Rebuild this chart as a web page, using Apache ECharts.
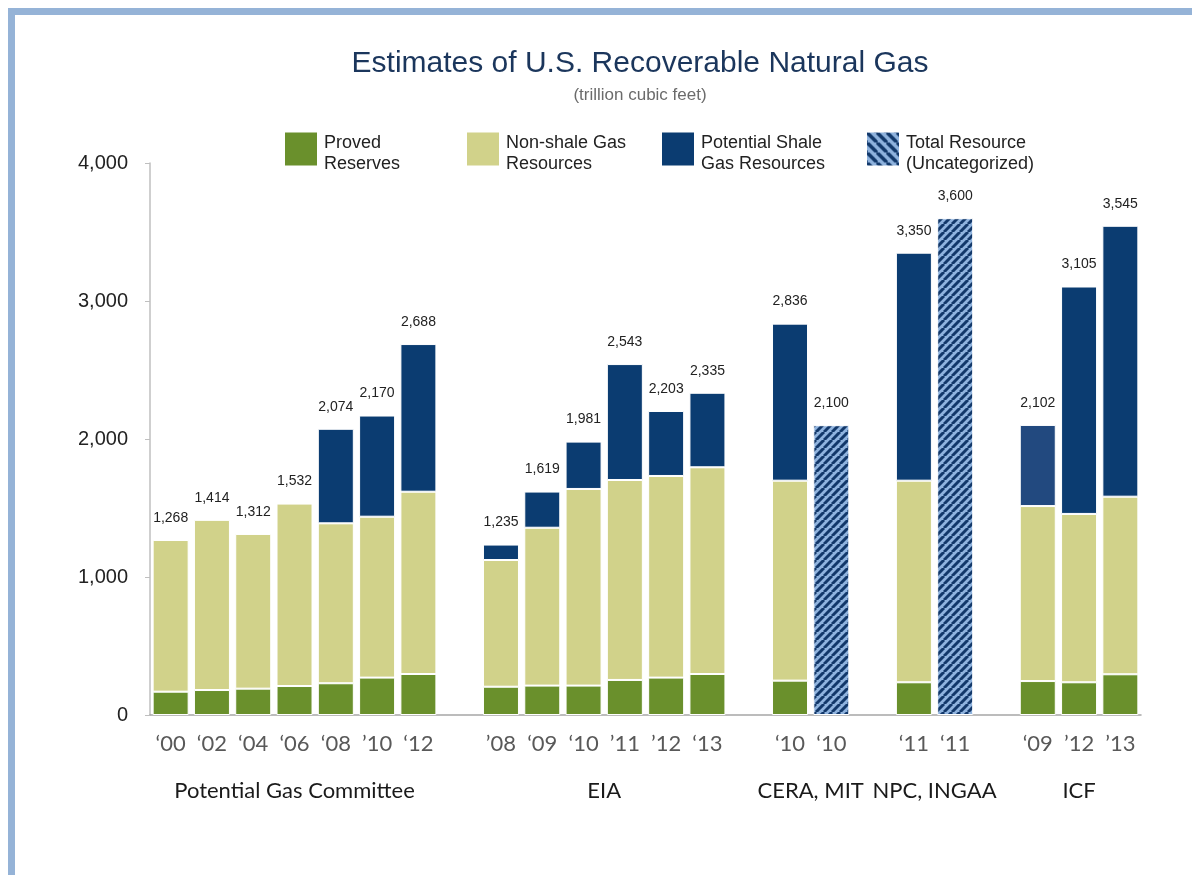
<!DOCTYPE html>
<html>
<head>
<meta charset="utf-8">
<title>Estimates of U.S. Recoverable Natural Gas</title>
<script src="https://cdn.jsdelivr.net/npm/echarts@6/dist/echarts.min.js"></script>
<style>
  html, body { margin: 0; padding: 0; background: #fff; }
  #chart { width: 1198px; height: 875px; }
</style>
</head>
<body>
<div id="chart"></div>
<script>
// categories: one slot per bar, empty slots separate the sources
const categories = ['PGC00', 'PGC02', 'PGC04', 'PGC06', 'PGC08', 'PGC10', 'PGC12', 'gap1',
  'EIA08', 'EIA09', 'EIA10', 'EIA11', 'EIA12', 'EIA13', 'gap2',
  'CERA10', 'MIT10', 'gap3', 'NPC11', 'INGAA11', 'gap4',
  'ICF09', 'ICF12', 'ICF13'];
const tickLabels = ['‘00', '‘02', '‘04', '‘06', '‘08', '’10', '‘12', '',
  '’08', '‘09', '‘10', '’11', '’12', '‘13', '',
  '‘10', '‘10', '', '‘11', '‘11', '',
  '‘09', '’12', '’13'];

// trillion cubic feet
const proved = [169, 181, 191, 210, 230, 271, 297, null,
  205, 213, 213, 254, 271, 297, null,
  249, null, null, 237, null, null,
  246, 237, 295];
const nonShale = [1099, 1233, 1121, 1322, 1159, 1166, 1321, null,
  918, 1144, 1425, 1449, 1461, 1498, null,
  1449, null, null, 1461, null, null,
  1268, 1220, 1287];
const shale = [null, null, null, null, 685, 733, 1070, null,
  112, 262, 343, 840, 471, 540, null,
  1138, null, null, 1652, null, null,
  588, 1648, 1963];
const uncategorized = [null, null, null, null, null, null, null, null,
  null, null, null, null, null, null, null,
  null, 2100, null, null, 3600, null,
  null, null, null];
const totals = [1268, 1414, 1312, 1532, 2074, 2170, 2688, null,
  1235, 1619, 1981, 2543, 2203, 2335, null,
  2836, 2100, null, 3350, 3600, null,
  2102, 3105, 3545];

// group names under the axis, with first and last slot of each group
const groupNames = ['Potential Gas Committee', 'EIA', 'CERA, MIT', 'NPC, INGAA', 'ICF'];
const groupSpans = [[0, 6], [8, 13], [15, 16], [18, 19], [21, 23]];

const seriesNames = ['Proved Reserves', 'Non-shale Gas Resources', 'Potential Shale Gas Resources', 'Total Resource (Uncategorized)'];
const legendLines = [['Proved', 'Reserves'], ['Non-shale Gas', 'Resources'], ['Potential Shale', 'Gas Resources'], ['Total Resource', '(Uncategorized)']];

// striped fill for the uncategorized bars
function stripes(size, width, up) {
  const c = document.createElement('canvas');
  c.width = size; c.height = size;
  const ctx = c.getContext('2d');
  ctx.fillStyle = '#8fb3de';
  ctx.fillRect(0, 0, size, size);
  ctx.strokeStyle = '#12386a';
  ctx.lineWidth = width;
  for (let k = -size; k <= size; k += size) {
    ctx.beginPath();
    if (up) { ctx.moveTo(k, size); ctx.lineTo(k + size, 0); }
    else { ctx.moveTo(k, 0); ctx.lineTo(k + size, size); }
    ctx.stroke();
  }
  return { image: c, repeat: 'repeat' };
}
const barPattern = stripes(8, 3, true);
const legendPattern = stripes(10, 3.5, false);

const GREEN = '#6a902c', KHAKI = '#d1d28a', NAVY = '#0b3c71';

const chart = echarts.init(document.getElementById('chart'));
const FONT = '"Liberation Sans", Arial, sans-serif';
const gridLeft = 150, gridRight = 57, gridTop = 163, gridBottom = 160;

function barSeries(name, data, color) {
  return {
    name: name,
    type: 'bar',
    stack: 'gas',
    barWidth: 36,
    data: data,
    itemStyle: { color: color, borderColor: '#ffffff', borderWidth: 1 }
  };
}

const legendLeft = [285, 467, 662, 867];
const legendColors = [GREEN, KHAKI, NAVY, legendPattern];

chart.setOption({
  animation: false,
  backgroundColor: '#ffffff',
  grid: { left: gridLeft, right: gridRight, top: gridTop, bottom: gridBottom },
  legend: seriesNames.map((n, i) => ({
    data: [{ name: n, itemStyle: { color: legendColors[i], borderWidth: 0 } }],
    left: legendLeft[i],
    top: 125,
    padding: 0,
    orient: 'horizontal',
    icon: 'rect',
    itemWidth: 32,
    itemHeight: 33,
    selectedMode: false,
    // a short blank first line pushes the two text lines a little below the icon centre
    formatter: () => '{s| }\n{t|' + legendLines[i][0] + '}\n{t|' + legendLines[i][1] + '}',
    textStyle: {
      fontFamily: FONT, fontSize: 18, color: '#222',
      rich: {
        s: { fontSize: 6, lineHeight: 9 },
        t: { fontFamily: FONT, fontSize: 18, lineHeight: 21, color: '#222', padding: [0, 0, 0, 2] }
      }
    }
  })),
  xAxis: {
    type: 'category',
    data: categories,
    axisTick: { show: false },
    axisLine: { lineStyle: { color: '#a6a6a6', width: 1.5 } },
    axisLabel: {
      interval: 0,
      margin: 18,
      fontFamily: 'Lato, "Open Sans", sans-serif',
      fontSize: 22,
      color: '#595959',
      formatter: (v, i) => tickLabels[i]
    }
  },
  yAxis: {
    type: 'value',
    min: 0,
    max: 4000,
    interval: 1000,
    splitLine: { show: false },
    axisLine: { show: true, lineStyle: { color: '#bfbfbf', width: 1.5 } },
    axisTick: { show: true, length: 5, lineStyle: { color: '#bfbfbf' } },
    axisLabel: {
      margin: 22,
      fontFamily: FONT,
      fontSize: 20,
      color: '#222',
      formatter: v => v.toLocaleString('en-US')
    }
  },
  series: [
    barSeries(seriesNames[0], proved, GREEN),
    barSeries(seriesNames[1], nonShale, KHAKI),
    {
      ...barSeries(seriesNames[2], shale, NAVY),
      itemStyle: {
        borderColor: '#ffffff', borderWidth: 1,
        color: p => categories[p.dataIndex] === 'ICF09' ? '#22497f' : NAVY
      }
    },
    barSeries(seriesNames[3], uncategorized, barPattern),
    {
      name: 'total',
      type: 'bar',
      stack: 'gas',
      barWidth: 36,
      silent: true,
      data: totals.map(v => (v == null ? null : 0)),
      itemStyle: { color: 'transparent', borderWidth: 0 },
      label: {
        show: true,
        position: 'top',
        distance: 15,
        fontFamily: FONT,
        fontSize: 14,
        color: '#222',
        formatter: p => totals[p.dataIndex].toLocaleString('en-US')
      }
    }
  ]
});

// frame, title and the source names under the ticks
const groupText = groupNames.map((g, i) => {
  const a = chart.convertToPixel({ xAxisIndex: 0 }, categories[groupSpans[i][0]]);
  const b = chart.convertToPixel({ xAxisIndex: 0 }, categories[groupSpans[i][1]]);
  return {
    type: 'text',
    x: (a + b) / 2,
    y: 791,
    style: {
      text: g, textAlign: 'center', textVerticalAlign: 'middle',
      fontFamily: 'Lato, "Open Sans", sans-serif', fontSize: 22, fill: '#1a1a1a'
    }
  };
});

chart.setOption({
  graphic: [
    { type: 'rect', shape: { x: 8, y: 8, width: 1184, height: 7 }, style: { fill: '#95b3d7' } },
    { type: 'rect', shape: { x: 8, y: 8, width: 7, height: 867 }, style: { fill: '#95b3d7' } },
    {
      type: 'text', x: 640, y: 64,
      style: {
        text: 'Estimates of U.S. Recoverable Natural Gas', textAlign: 'center', textVerticalAlign: 'middle',
        fontFamily: FONT, fontSize: 30, fill: '#1b365c'
      }
    },
    {
      type: 'text', x: 640, y: 95,
      style: {
        text: '(trillion cubic feet)', textAlign: 'center', textVerticalAlign: 'middle',
        fontFamily: FONT, fontSize: 17, fill: '#6b6b6b'
      }
    }
  ].concat(groupText)
});
</script>
</body>
</html>
